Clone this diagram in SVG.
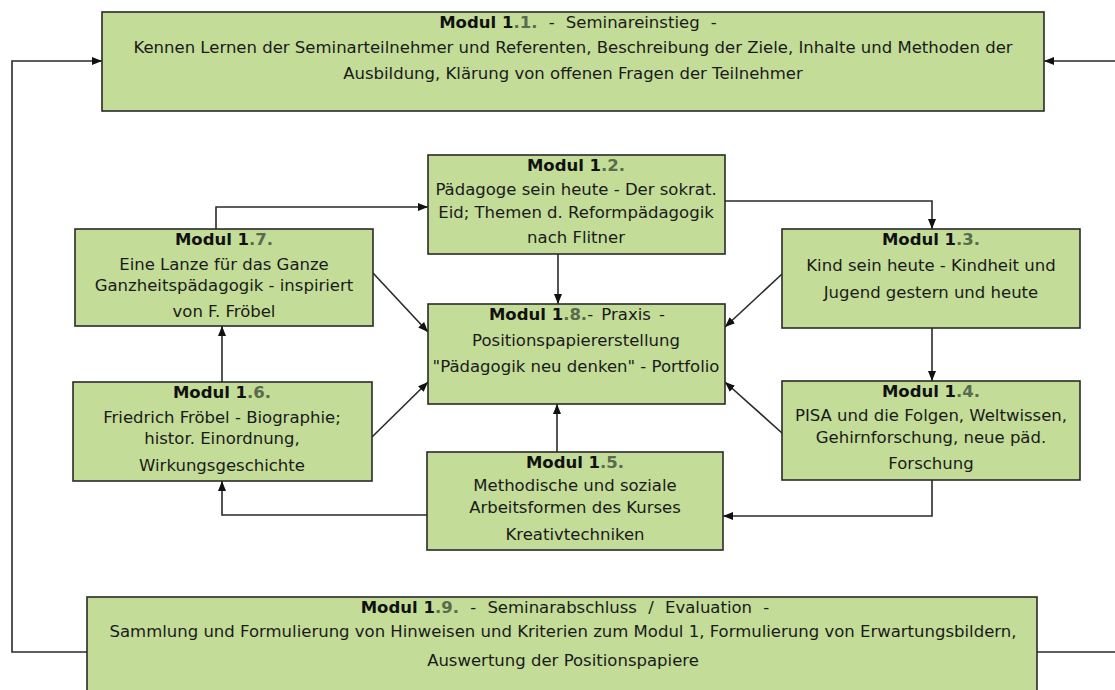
<svg xmlns="http://www.w3.org/2000/svg" width="1115" height="690" viewBox="0 0 1115 690">
<style>
.box{fill:#c3dc97;stroke:#2a2a2a;stroke-width:1.6}
.t{font-family:"DejaVu Sans","Liberation Sans",sans-serif;font-size:16.5px;fill:#1a1a1a;text-anchor:middle}
.w{word-spacing:6px}
.b{font-weight:bold;fill:#111;word-spacing:0}
.n{fill:#5a6a4e}
.c{fill:none;stroke:#2a2a2a;stroke-width:1.6}
</style>
<defs>
<marker id="ah" markerUnits="userSpaceOnUse" markerWidth="10" markerHeight="10" viewBox="0 0 10 10" refX="10" refY="5" orient="auto">
<path d="M0,1 L10,5 L0,9 Z" fill="#111"/>
</marker>
</defs>
<rect width="1115" height="690" fill="#fff"/>
<g id="connectors">
<path class="c" d="M87,652 H12 V61 H102" marker-end="url(#ah)"/>
<path class="c" d="M1037,652 H1117 V61 H1044" marker-end="url(#ah)"/>
<path class="c" d="M216,229 V207 H428" marker-end="url(#ah)"/>
<path class="c" d="M725,201 H932 V229" marker-end="url(#ah)"/>
<path class="c" d="M558,254 V304" marker-end="url(#ah)"/>
<path class="c" d="M932,328 V381" marker-end="url(#ah)"/>
<path class="c" d="M373,273 L428,332" marker-end="url(#ah)"/>
<path class="c" d="M372,437 L428,382" marker-end="url(#ah)"/>
<path class="c" d="M782,274 L725,327" marker-end="url(#ah)"/>
<path class="c" d="M782,433 L725,382" marker-end="url(#ah)"/>
<path class="c" d="M557,452 V404" marker-end="url(#ah)"/>
<path class="c" d="M932,480 V516 H723" marker-end="url(#ah)"/>
<path class="c" d="M427,515 H222 V481" marker-end="url(#ah)"/>
<path class="c" d="M222,382 V326" marker-end="url(#ah)"/>
</g>
<g id="m11">
<rect class="box" x="102" y="12" width="942" height="99"/>
<text class="t w" x="578" y="28"><tspan class="b">Modul 1<tspan class="n">.1.</tspan></tspan> - Seminareinstieg -</text>
<text class="t" x="573" y="53">Kennen Lernen der Seminarteilnehmer und Referenten, Beschreibung der Ziele, Inhalte und Methoden der</text>
<text class="t" x="573" y="79">Ausbildung, Klärung von offenen Fragen der Teilnehmer</text>
</g>
<g id="m12">
<rect class="box" x="428" y="155" width="297" height="99"/>
<text class="t" x="576" y="171"><tspan class="b">Modul 1<tspan class="n">.2.</tspan></tspan></text>
<text class="t" x="576" y="195">Pädagoge sein heute - Der sokrat.</text>
<text class="t" x="576" y="218">Eid; Themen d. Reformpädagogik</text>
<text class="t" x="576" y="243">nach Flitner</text>
</g>
<g id="m17">
<rect class="box" x="75" y="229" width="298" height="97"/>
<text class="t" x="224" y="245"><tspan class="b">Modul 1<tspan class="n">.7.</tspan></tspan></text>
<text class="t" x="224" y="270">Eine Lanze für das Ganze</text>
<text class="t" x="224" y="291">Ganzheitspädagogik - inspiriert</text>
<text class="t" x="224" y="317">von F. Fröbel</text>
</g>
<g id="m13">
<rect class="box" x="782" y="229" width="298" height="99"/>
<text class="t" x="931" y="245"><tspan class="b">Modul 1<tspan class="n">.3.</tspan></tspan></text>
<text class="t" x="931" y="271">Kind sein heute - Kindheit und</text>
<text class="t" x="931" y="298">Jugend gestern und heute</text>
</g>
<g id="m18">
<rect class="box" x="428" y="304" width="297" height="100"/>
<text class="t" x="577" y="320" style="word-spacing:3px"><tspan class="b">Modul 1<tspan class="n">.8.</tspan></tspan>- Praxis -</text>
<text class="t" x="576" y="346">Positionspapiererstellung</text>
<text class="t" x="576" y="372">"Pädagogik neu denken" - Portfolio</text>
</g>
<g id="m16">
<rect class="box" x="73" y="382" width="299" height="99"/>
<text class="t" x="222" y="398"><tspan class="b">Modul 1<tspan class="n">.6.</tspan></tspan></text>
<text class="t" x="222" y="423">Friedrich Fröbel - Biographie;</text>
<text class="t" x="222" y="444">histor. Einordnung,</text>
<text class="t" x="222" y="471">Wirkungsgeschichte</text>
</g>
<g id="m14">
<rect class="box" x="782" y="381" width="298" height="99"/>
<text class="t" x="931" y="397"><tspan class="b">Modul 1<tspan class="n">.4.</tspan></tspan></text>
<text class="t" x="931" y="421">PISA und die Folgen, Weltwissen,</text>
<text class="t" x="931" y="443">Gehirnforschung, neue päd.</text>
<text class="t" x="931" y="469">Forschung</text>
</g>
<g id="m15">
<rect class="box" x="427" y="452" width="296" height="98"/>
<text class="t" x="575" y="468"><tspan class="b">Modul 1<tspan class="n">.5.</tspan></tspan></text>
<text class="t" x="575" y="491">Methodische und soziale</text>
<text class="t" x="575" y="513">Arbeitsformen des Kurses</text>
<text class="t" x="575" y="540">Kreativtechniken</text>
</g>
<g id="m19">
<rect class="box" x="87" y="597" width="950" height="100"/>
<text class="t w" x="565" y="613"><tspan class="b">Modul 1<tspan class="n">.9.</tspan></tspan> - Seminarabschluss / Evaluation -</text>
<text class="t" x="563" y="637">Sammlung und Formulierung von Hinweisen und Kriterien zum Modul 1, Formulierung von Erwartungsbildern,</text>
<text class="t" x="563" y="666">Auswertung der Positionspapiere</text>
</g>
</svg>
